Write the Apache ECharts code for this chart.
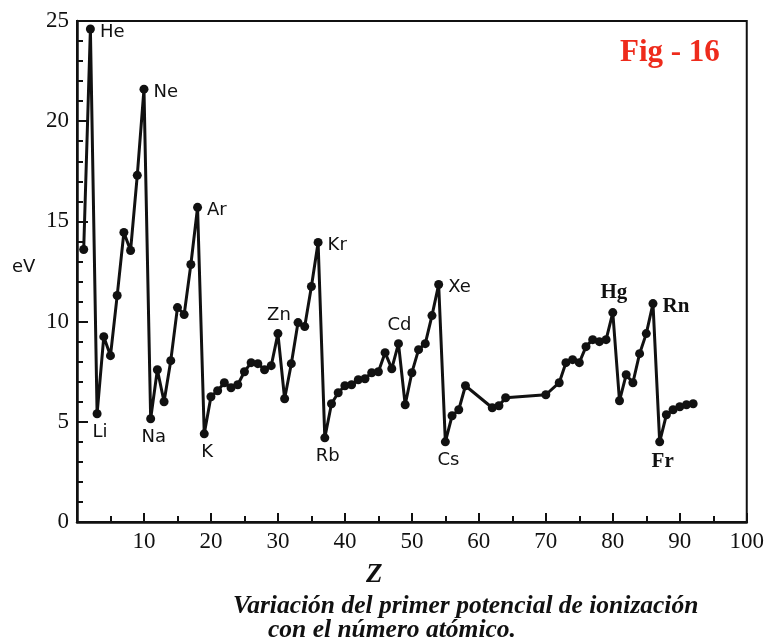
<!DOCTYPE html>
<html>
<head>
<meta charset="utf-8">
<script src="https://cdn.jsdelivr.net/npm/echarts@6/dist/echarts.min.js"></script>
<style>
  html, body { margin: 0; padding: 0; background: #fff; }
  #chart { width: 767px; height: 637px; }
</style>
</head>
<body>
<div id="chart"></div>
<script>
// atomic number (Z) and first ionization potential (eV)
const atomicNumber = [1, 2, 3, 4, 5, 6, 7, 8, 9, 10,
  11, 12, 13, 14, 15, 16, 17, 18, 19, 20,
  21, 22, 23, 24, 25, 26, 27, 28, 29, 30,
  31, 32, 33, 34, 35, 36, 37, 38, 39, 40,
  41, 42, 43, 44, 45, 46, 47, 48, 49, 50,
  51, 52, 53, 54, 55, 56, 57, 58, 62, 63, 64,
  70, 72, 73, 74, 75, 76, 77, 78, 79, 80,
  81, 82, 83, 84, 85, 86, 87, 88, 89, 90, 91, 92];
const ionization = [13.6, 24.6, 5.4, 9.25, 8.3, 11.3, 14.45, 13.55, 17.3, 21.6,
  5.15, 7.6, 6.0, 8.05, 10.7, 10.35, 12.85, 15.7, 4.4, 6.25,
  6.55, 6.95, 6.7, 6.85, 7.5, 7.95, 7.9, 7.6, 7.8, 9.4,
  6.15, 7.9, 9.95, 9.75, 11.75, 13.95, 4.2, 5.9, 6.45, 6.8,
  6.85, 7.1, 7.15, 7.45, 7.5, 8.45, 7.65, 8.9, 5.85, 7.45,
  8.6, 8.9, 10.3, 11.85, 4.0, 5.3, 5.6, 6.8, 5.7, 5.8, 6.2,
  6.35, 6.95, 7.95, 8.1, 7.95, 8.75, 9.1, 9.0, 9.1, 10.45,
  6.05, 7.35, 6.95, 8.4, 9.4, 10.9, 4.0, 5.35, 5.6, 5.75, 5.85, 5.9];

// labelled elements
const labelZ = [2, 10, 18, 36, 54, 86, 3, 11, 19, 37, 55, 87, 30, 48, 80];
const labelText = ['He', 'Ne', 'Ar', 'Kr', 'Xe', 'Rn', 'Li', 'Na', 'K', 'Rb', 'Cs', 'Fr', 'Zn', 'Cd', 'Hg'];
const labelSide = ['right', 'right', 'right', 'right', 'right', 'right',
  'bottom', 'bottom', 'bottom', 'bottom', 'bottom', 'bottom', 'top', 'top', 'top'];
const serifLabels = ['Rn', 'Fr', 'Hg'];

const yTicks = [0, 5, 10, 15, 20, 25];

const chart = echarts.init(document.getElementById('chart'), null, { renderer: 'canvas' });

const seriesData = atomicNumber.map((z, i) => {
  const k = labelZ.indexOf(z);
  if (k < 0) return [z, ionization[i]];
  const txt = labelText[k];
  const side = labelSide[k];
  const serif = serifLabels.includes(txt);
  return {
    value: [z, ionization[i]],
    label: {
      show: true,
      formatter: txt,
      position: side,
      distance: 5,
      offset: side === 'right' ? [0, 3] : (side === 'bottom' ? [3, 0] : [1, 0]),
      color: '#111',
      fontFamily: serif ? 'Liberation Serif' : 'DejaVu Sans',
      fontWeight: serif ? 'bold' : 'normal',
      fontSize: serif ? 21 : 18
    }
  };
});

const option = {
  animation: false,
  backgroundColor: '#fff',
  grid: {
    left: 77, right: 15, top: 21, bottom: 115,
    show: true, borderColor: '#111', borderWidth: 2
  },
  xAxis: {
    type: 'value',
    min: 0, max: 100, interval: 10,
    axisLine: { lineStyle: { color: '#111', width: 2.5 } },
    axisTick: { inside: true, length: 9, lineStyle: { color: '#111', width: 2 } },
    minorTick: { show: true, splitNumber: 2, length: 6, lineStyle: { color: '#111', width: 2 } },
    splitLine: { show: false },
    axisLabel: {
      color: '#111', fontFamily: 'Liberation Serif', fontSize: 23, margin: 8,
      formatter: v => (v === 0 ? '' : String(v))
    }
  },
  yAxis: {
    type: 'value',
    min: 0, max: 25, interval: 5,
    axisLine: { show: true, lineStyle: { color: '#111', width: 2.5 } },
    axisTick: { show: true, inside: true, length: 11, lineStyle: { color: '#111', width: 2 } },
    minorTick: { show: true, splitNumber: 5, length: 6, lineStyle: { color: '#111', width: 2 } },
    splitLine: { show: false },
    axisLabel: {
      color: '#111', fontFamily: 'Liberation Serif', fontSize: 23, margin: 8,
      formatter: v => (yTicks.includes(v) ? String(v) : '')
    }
  },
  series: [{
    type: 'line',
    data: seriesData,
    symbol: 'circle',
    symbolSize: 9,
    itemStyle: { color: '#111' },
    lineStyle: { color: '#111', width: 3 }
  }],
  graphic: [
    { type: 'text', left: 12, top: 258,
      style: { text: 'eV', font: '18px "DejaVu Sans"', fill: '#111' } },
    { type: 'text', left: 366, top: 562,
      style: { text: 'Z', font: 'italic bold 27px "Liberation Serif"', fill: '#111' } },
    { type: 'text', left: 233, top: 593,
      style: { text: 'Variación del primer potencial de ionización', font: 'italic bold 25.5px "Liberation Serif"', fill: '#111' } },
    { type: 'text', left: 268, top: 617,
      style: { text: 'con el número atómico.', font: 'italic bold 25.5px "Liberation Serif"', fill: '#111' } },
    { type: 'text', left: 620, top: 37,
      style: { text: 'Fig - 16', font: 'bold 31px "Liberation Serif"', fill: '#ee2b1c' } }
  ]
};

chart.setOption(option);
</script>
</body>
</html>
